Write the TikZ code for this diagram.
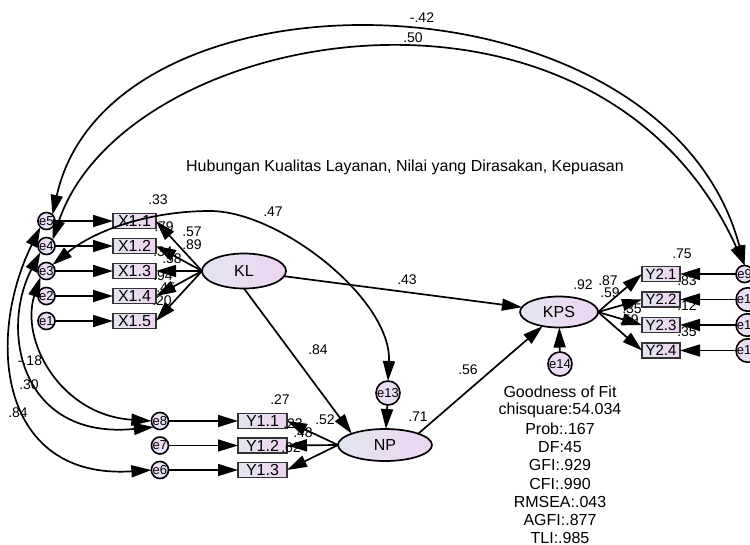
\documentclass[tikz,border=0pt]{standalone}
\usepackage{fontspec}
\setmainfont{Liberation Sans}
\usetikzlibrary{arrows.meta, shapes.geometric, positioning}

\definecolor{boxleft}{RGB}{226,230,240}
\definecolor{boxright}{RGB}{238,212,242}
\definecolor{errfill}{RGB}{234,222,246}

\begin{document}
\begin{tikzpicture}[x=1pt, y=-1pt, node distance=10pt]
    \tikzstyle{obs} = [rectangle, draw=black!80, line width=1.8pt, outer sep=0pt, inner sep=0pt, minimum height=15pt, left color=boxleft, right color=boxright, font=\fontsize{16}{16}\selectfont]
    \tikzstyle{latent} = [ellipse, draw=black, line width=1.7pt, outer sep=0pt, inner sep=0pt, left color=boxleft, right color=boxright, font=\fontsize{16}{16}\selectfont]
    \tikzstyle{err} = [circle, draw=black, line width=1.6pt, outer sep=0pt, inner sep=0pt, minimum size=15pt, fill=errfill, font=\fontsize{13}{13}\selectfont]
    \tikzstyle{est} = [inner sep=0pt, font=\fontsize{14}{14}\selectfont]
    \tikzstyle{arrow} = [line width=1.7pt, -{Triangle[length=20pt, width=12pt]}]
    \tikzstyle{cov} = [line width=1.7pt, {Triangle[length=20pt, width=12pt]}-{Triangle[length=20pt, width=12pt]}]

    \useasboundingbox (0,0) rectangle (750,544);

    \node (title) at (405,167) [font=\fontsize{16}{16}\selectfont] {Hubungan Kualitas Layanan, Nilai yang Dirasakan, Kepuasan};

    % latent variables
    \node (KL) [latent, minimum width=84pt, minimum height=35pt] at (244,271) {KL};
    \node (NP) [latent, minimum width=94pt, minimum height=32pt] at (385,445) {NP};
    \node (KPS) [latent, minimum width=78pt, minimum height=31pt] at (559,312) {KPS};
    \node (e13) [err, minimum size=24pt] at (388,393) {e13};
    \node (e14) [err, minimum size=24pt] at (560,364) {e14};

    % indicators of KL
    \node (x11) [obs, minimum width=43pt] at (134.5,221) {X1.1};
    \node (x12) [obs, minimum width=43pt, below=of x11] {X1.2};
    \node (x13) [obs, minimum width=43pt, below=of x12] {X1.3};
    \node (x14) [obs, minimum width=43pt, below=of x13] {X1.4};
    \node (x15) [obs, minimum width=43pt, below=of x14] {X1.5};
    \node (e5) [err, left=58pt of x11] {e5};
    \node (e4) [err, left=58pt of x12] {e4};
    \node (e3) [err, left=58pt of x13] {e3};
    \node (e2) [err, left=58pt of x14] {e2};
    \node (e1) [err, left=58pt of x15] {e1};

    % indicators of NP
    \node (y11) [obs, minimum width=49pt] at (262.5,421) {Y1.1};
    \node (y12) [obs, minimum width=49pt, below=9.5pt of y11] {Y1.2};
    \node (y13) [obs, minimum width=49pt, below=9.5pt of y12] {Y1.3};
    \node (e8) [err, left=69.5pt of y11] {e8};
    \node (e7) [err, left=69.5pt of y12] {e7};
    \node (e6) [err, left=69.5pt of y13] {e6};

    % indicators of KPS
    \node (y21) [obs, minimum width=38pt, font=\fontsize{15}{15}\selectfont] at (661,274) {Y2.1};
    \node (y22) [obs, minimum width=38pt, font=\fontsize{15}{15}\selectfont, below=10.5pt of y21] {Y2.2};
    \node (y23) [obs, minimum width=38pt, font=\fontsize{15}{15}\selectfont, below=10.5pt of y22] {Y2.3};
    \node (y24) [obs, minimum width=38pt, font=\fontsize{15}{15}\selectfont, below=10.5pt of y23] {Y2.4};
    \node (e9) [err, right=56pt of y21] {e9};
    \node (e10) [err, right=56pt of y22] {e10};
    \node (e11) [err, right=56pt of y23] {e11};
    \node (e12) [err, right=56pt of y24] {e12};

    % estimates
    \node (cA) [est] at (422,18) {-.42};
    \node (cB) [est] at (413,38) {.50};
    \node (cC) [est] at (273,212) {.47};
    \node (cD) [est] at (30,361) {-.18};
    \node (cE) [est] at (29,385) {.30};
    \node (cF) [est] at (18,413) {.84};
    \node (rx11) [est] at (158,200) {.33};
    \node (rx12) [est] at (164,227) {.79};
    \node (rx13) [est] at (163,252) {.34};
    \node (rx14) [est] at (163,276) {.94};
    \node (rx15) [est] at (162,301) {.20};
    \node (lx11) [est] at (192,232) {.57};
    \node (lx12) [est] at (192,245) {.89};
    \node (lx13) [est] at (172,259) {.58};
    \node (lx15) [est] at (166,288) {.45};
    \node (ry11) [est] at (280,400) {.27};
    \node (ry12) [est] at (293,424) {.23};
    \node (ry13) [est] at (291,448) {.62};
    \node (ly11) [est] at (325,420) {.52};
    \node (ly12) [est] at (303,433) {.48};
    \node (rNP) [est] at (418,417) {.71};
    \node (rKPS) [est] at (583,285) {.92};
    \node (bKLKPS) [est] at (407,280) {.43};
    \node (bKLNP) [est] at (318,350) {.84};
    \node (bNPKPS) [est] at (468,370) {.56};
    \node (ly21) [est] at (608,281) {.87};
    \node (ly22) [est] at (610,293) {.59};
    \node (ly23) [est] at (632,309) {.35};
    \node (ly24) [est] at (629,320) {.59};
    \node (ry21) [est] at (682,254) {.75};
    \node (ry22) [est] at (687,281) {.83};
    \node (ry23) [est] at (687,306) {.12};
    \node (ry24) [est] at (687,332) {.35};

    % model fit
    \foreach \t [count=\i] in {Goodness of Fit, chisquare:54.034, Prob:.167, DF:45, GFI:.929, CFI:.990, RMSEA:.043, AGFI:.877, TLI:.985}
        \node (fit\i) [font=\fontsize{16}{16}\selectfont, inner sep=0pt] at (560,392+18.3*\i-18.3) {\t};

    % measurement paths
    \draw [arrow] (e1) -- (x15);
    \draw [arrow] (e2) -- (x14);
    \draw [arrow] (e3) -- (x13);
    \draw [arrow] (e4) -- (x12);
    \draw [arrow] (e5) -- (x11);
    \draw [arrow] (KL.west) -- (x11.east);
    \draw [arrow] (KL.west) -- (x12.east);
    \draw [arrow] (KL.west) -- (x13.east);
    \draw [arrow] (KL.west) -- (x14.east);
    \draw [arrow] (KL.west) -- (x15.east);

    \draw [arrow] (e8) -- (y11);
    \draw [arrow] (e7) -- (y12);
    \draw [arrow] (e6) -- (y13);
    \draw [arrow] (NP.west) -- (y11.east);
    \draw [arrow] (NP.west) -- (y12.east);
    \draw [arrow] (NP.west) -- (y13.east);

    \draw [arrow] (KPS.east) -- (y21.west);
    \draw [arrow] (KPS.east) -- (y22.west);
    \draw [arrow] (KPS.east) -- (y23.west);
    \draw [arrow] (KPS.east) -- (y24.west);
    \draw [arrow] (e9) -- (y21);
    \draw [arrow] (e10) -- (y22);
    \draw [arrow] (e11) -- (y23);
    \draw [arrow] (e12) -- (y24);

    % structural paths
    \draw [arrow] (KL) -- (KPS);
    \draw [arrow] (KL.south) -- (NP.north west);
    \draw [arrow] (NP.north east) -- (KPS);
    \draw [arrow] (e13) -- (NP);
    \draw [arrow] (e14) -- (KPS);

    % correlated errors
    \draw [cov] (e5.north east) .. controls (110,-45) and (665,-34) .. (e9.north);
    \draw [cov] (e4.north east) .. controls (125,25) and (597,-60) .. (e9.north);
    \draw [cov] (e3.north east) .. controls (95,230) and (150,211) .. (210,211)
                .. controls (280,211) and (392,300) .. (e13.north);
    \draw [cov] (e5.south west) .. controls (-15,340) and (0,480) .. (e6.west);
    \draw [cov] (e4.south west) .. controls (0,330) and (20,440) .. (e8.south west);
    \draw [cov] (e3.south west) .. controls (20,340) and (60,415) .. (e8.west);
\end{tikzpicture}
\end{document}
